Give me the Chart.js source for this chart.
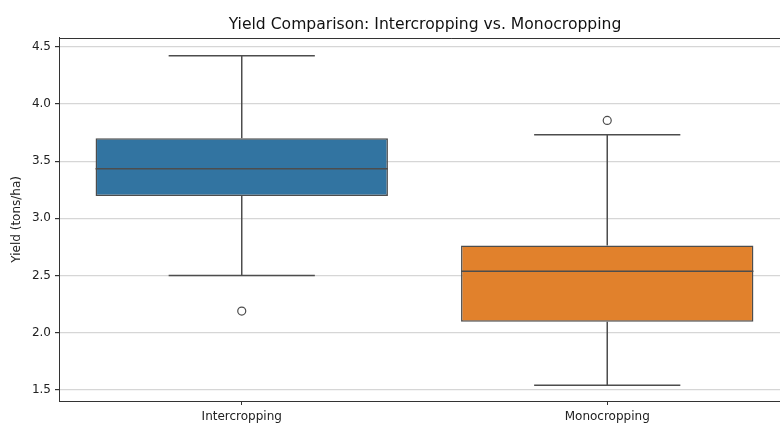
<!DOCTYPE html>
<html>
<head>
<meta charset="utf-8">
<script src="https://cdn.jsdelivr.net/npm/chart.js@4.4.1/dist/chart.umd.min.js"></script>
<style>
  html, body { margin: 0; padding: 0; background: #ffffff; overflow: hidden; }
  #wrap { width: 850px; height: 424px; }
</style>
</head>
<body>
<div id="wrap"><canvas id="chart" width="850" height="424"></canvas></div>
<script>
// Yield distribution per cropping system (tons/ha)
const categories = ['Intercropping', 'Monocropping'];
const q1 = [3.195, 2.096];
const medians = [3.433, 2.538];
const q3 = [3.700, 2.762];
const whiskerLow = [2.500, 1.541];
const whiskerHigh = [4.420, 3.730];
const outliers = [[2.19], [3.855]];
const yTicks = [1.5, 2.0, 2.5, 3.0, 3.5, 4.0, 4.5];

const boxColors = ['#3274a1', '#e1812c'];
const lineColor = '#4d4d4d';
const axisColor = '#333333';
const FONT = '"DejaVu Sans", "Liberation Sans", sans-serif';
const CAP = 0.2;   // half width of whisker caps (category units)
const HALF = 0.4;  // half width of boxes (category units)

// whisker stems and caps, separated by gaps
const whiskerPts = [];
categories.forEach((c, i) => {
  whiskerPts.push({x: i, y: q3[i]}, {x: i, y: whiskerHigh[i]}, {x: i, y: null});
  whiskerPts.push({x: i - CAP, y: whiskerHigh[i]}, {x: i + CAP, y: whiskerHigh[i]}, {x: i, y: null});
  whiskerPts.push({x: i, y: q1[i]}, {x: i, y: whiskerLow[i]}, {x: i, y: null});
  whiskerPts.push({x: i - CAP, y: whiskerLow[i]}, {x: i + CAP, y: whiskerLow[i]}, {x: i, y: null});
});

const medianPts = [];
categories.forEach((c, i) => {
  medianPts.push({x: i - HALF, y: medians[i]}, {x: i + HALF, y: medians[i]}, {x: i, y: null});
});

const outlierPts = [];
outliers.forEach((arr, i) => arr.forEach(v => outlierPts.push({x: i, y: v})));

// top frame line of the axes box
const topFrame = {
  id: 'topFrame',
  afterDraw(chart) {
    const {ctx, chartArea} = chart;
    ctx.save();
    ctx.strokeStyle = axisColor;
    ctx.lineWidth = 1;
    ctx.beginPath();
    ctx.moveTo(chartArea.left, Math.round(chartArea.top) + 0.5);
    ctx.lineTo(chartArea.right, Math.round(chartArea.top) + 0.5);
    ctx.stroke();
    ctx.restore();
  }
};

new Chart(document.getElementById('chart'), {
  type: 'bar',
  data: {
    datasets: [
      {
        type: 'line',
        data: medianPts,
        borderColor: lineColor,
        borderWidth: 1.5,
        pointRadius: 0,
        spanGaps: false,
        order: 1
      },
      {
        type: 'line',
        data: whiskerPts,
        borderColor: lineColor,
        borderWidth: 1.5,
        pointRadius: 0,
        spanGaps: false,
        order: 1
      },
      {
        type: 'scatter',
        data: outlierPts,
        pointStyle: 'circle',
        pointRadius: 4,
        pointBackgroundColor: '#ffffff',
        pointBorderColor: lineColor,
        pointBorderWidth: 1.2,
        order: 0
      },
      {
        type: 'bar',
        data: categories.map((c, i) => ({x: i, y: [q1[i], q3[i]]})),
        backgroundColor: boxColors,
        borderColor: lineColor,
        borderWidth: 1.5,
        borderSkipped: false,
        categoryPercentage: 1,
        barPercentage: 0.8,
        order: 2
      }
    ]
  },
  options: {
    responsive: false,
    animation: false,
    devicePixelRatio: 1,
    layout: { padding: 0 },
    plugins: {
      legend: { display: false },
      tooltip: { enabled: false },
      title: {
        display: true,
        text: 'Yield Comparison: Intercropping vs. Monocropping',
        color: '#111111',
        font: { family: FONT, size: 15.6, weight: 'normal' },
        padding: { top: 16, bottom: 3 }
      }
    },
    scales: {
      x: {
        type: 'linear',
        offset: false,
        min: -0.5,
        max: 1.650,
        afterBuildTicks(scale) { scale.ticks = categories.map((c, i) => ({value: i})); },
        afterFit(scale) { scale.height = 23; },
        ticks: {
          autoSkip: false,
          maxRotation: 0,
          padding: 5,
          color: '#222222',
          font: { family: FONT, size: 12 },
          callback: (v) => categories[v]
        },
        grid: { display: true, offset: false, drawOnChartArea: false, drawTicks: true, tickLength: 4, tickColor: axisColor },
        border: { display: true, color: axisColor, width: 1 }
      },
      y: {
        min: 1.404,
        max: 4.578,
        afterBuildTicks(scale) { scale.ticks = yTicks.map(v => ({value: v})); },
        afterFit(scale) { scale.width = 59; },
        ticks: {
          padding: 4,
          color: '#222222',
          font: { family: FONT, size: 12 },
          callback: (v) => v.toFixed(1)
        },
        grid: { color: '#d6d6d6', lineWidth: 1.2, tickLength: 4, tickColor: axisColor },
        border: { display: true, color: axisColor, width: 1 },
        title: {
          display: true,
          text: 'Yield (tons/ha)',
          color: '#222222',
          font: { family: FONT, size: 12 },
          padding: { top: 10, bottom: 0 }
        }
      }
    }
  },
  plugins: [topFrame]
});
</script>
</body>
</html>
